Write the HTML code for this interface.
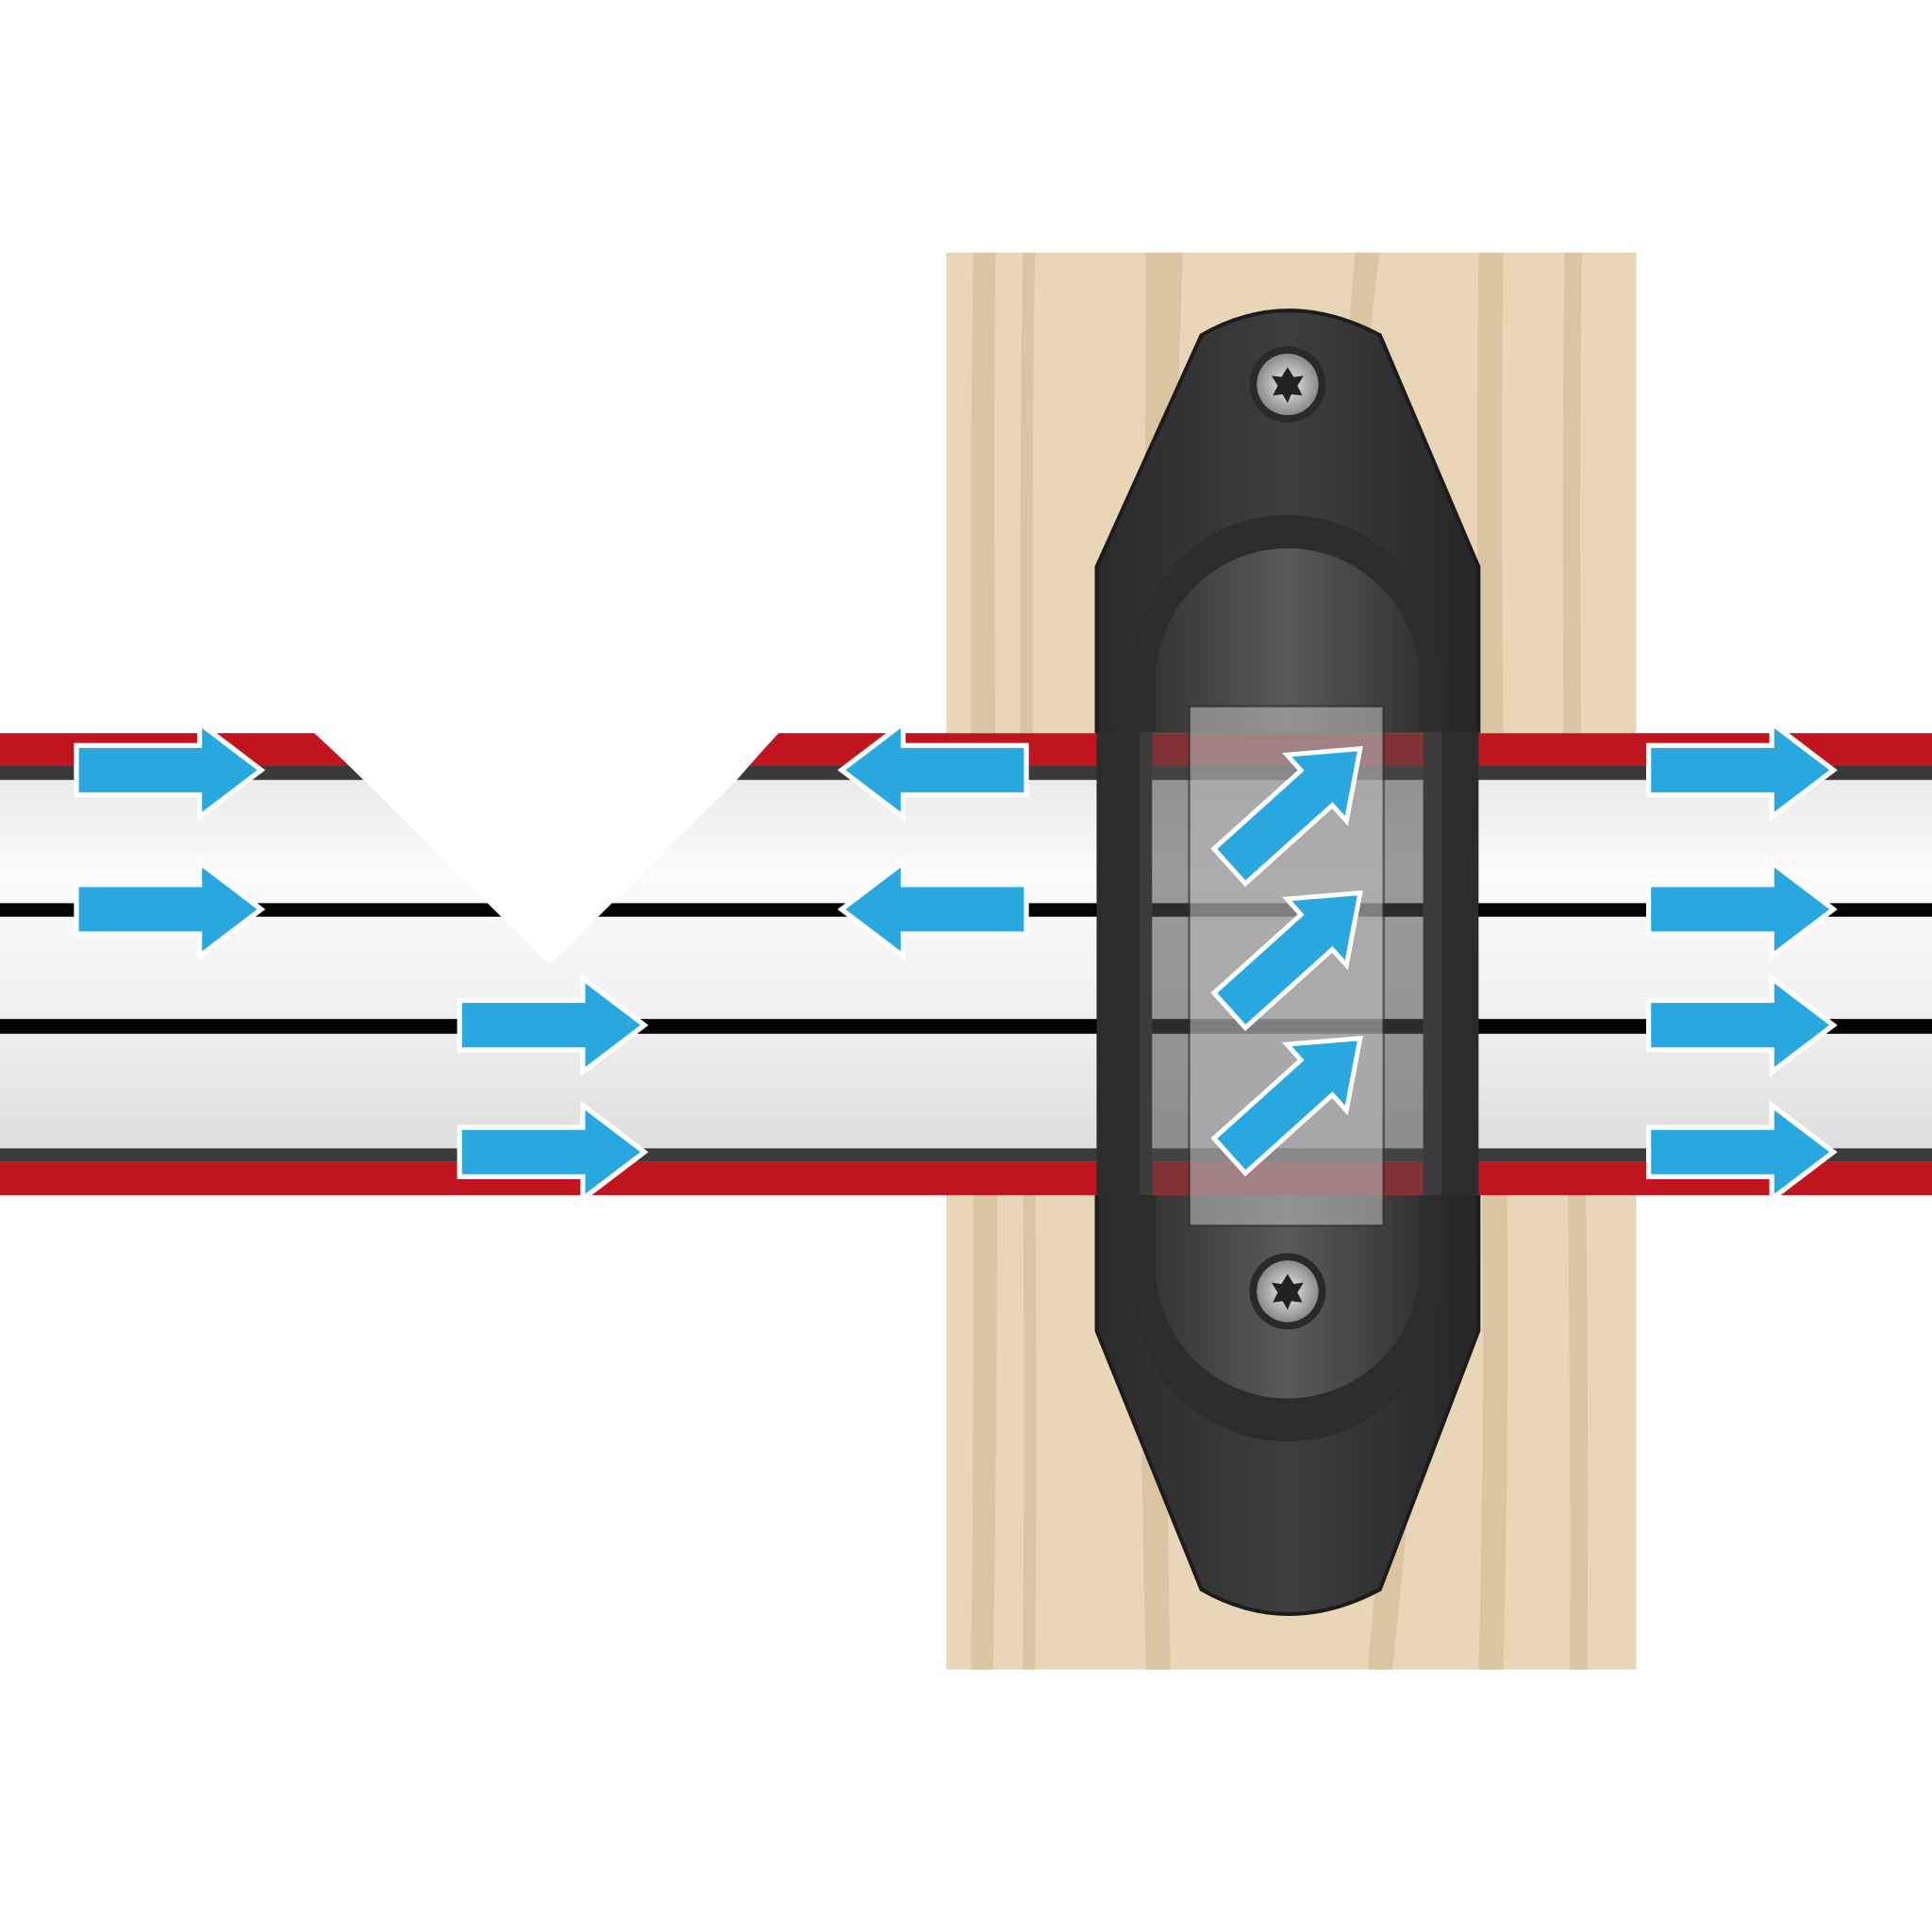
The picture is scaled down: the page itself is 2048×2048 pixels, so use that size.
<!DOCTYPE html>
<html><head><style>html,body{margin:0;padding:0;background:#fff}svg{display:block}</style></head>
<body>
<svg width="2048" height="2048" viewBox="0 0 1568 1568" xmlns="http://www.w3.org/2000/svg">
<defs>
<linearGradient id="tape" x1="0" y1="0" x2="0" y2="1">
<stop offset="0" stop-color="#e2e2e2"/><stop offset="0.3" stop-color="#fbfbfb"/><stop offset="0.6" stop-color="#f1f1f1"/><stop offset="1" stop-color="#d8d8d8"/>
</linearGradient>
<linearGradient id="body" x1="0" y1="0" x2="1" y2="0">
<stop offset="0" stop-color="#2a2a2a"/><stop offset="0.5" stop-color="#3e3e3e"/><stop offset="1" stop-color="#262626"/>
</linearGradient>
<linearGradient id="inner" x1="0" y1="0" x2="1" y2="0">
<stop offset="0" stop-color="#353535"/><stop offset="0.5" stop-color="#5a5a5a"/><stop offset="1" stop-color="#333"/>
</linearGradient>
<radialGradient id="screw"><stop offset="0" stop-color="#eee"/><stop offset="1" stop-color="#8a8a8a"/></radialGradient>
<g id="ar"><path d="M0,-20 H100 V-38 L150,0 L100,38 V20 H0 Z" fill="#29a8e0" stroke="#fff" stroke-width="4" stroke-linejoin="miter"/></g>
</defs>

<!-- wood post -->
<rect x="768" y="205" width="560" height="1150" fill="#e9d6b9"/>
<g fill="#d6c09e" opacity="0.8">
<path d="M790,205 h18 c-4,300 6,700 -2,1150 h-18 c6,-400 -4,-800 2,-1150z"/>
<path d="M830,205 h10 c-6,400 4,800 0,1150 h-10 c4,-400 -6,-700 0,-1150z"/>
<path d="M930,205 h30 c-10,300 -20,700 -10,1150 h-20 c-10,-400 0,-800 0,-1150z"/>
<path d="M1100,205 h20 c-30,200 -10,500 20,700 c20,200 0,350 -10,450 h-20 c10,-120 30,-250 10,-450 c-30,-200 -40,-500 -20,-700z"/>
<path d="M1200,205 h20 c-5,400 10,800 0,1150 h-20 c10,-350 -5,-750 0,-1150z"/>
<path d="M1270,205 h14 c-6,400 8,800 4,1150 h-14 c2,-400 -10,-800 -4,-1150z"/>
</g>

<!-- connector body -->
<path d="M975,272 Q1045,232 1120,272 L1200,460 V1080 L1120,1290 Q1045,1330 975,1290 L890,1080 V460 Z" fill="url(#body)" stroke="#1c1c1c" stroke-width="3"/>
<rect x="920" y="418" width="250" height="752" rx="125" fill="#2c2c2c"/>
<rect x="938" y="445" width="214" height="690" rx="107" fill="url(#inner)"/>

<!-- tape left piece + right piece -->
<path d="M0,595 H255 L295,632 L446,782 L598,632 L632,595 H1568 V970 H0 Z" fill="url(#tape)"/>
<clipPath id="tc"><path d="M0,595 H255 L295,632 L446,782 L598,632 L632,595 H1568 V970 H0 Z"/></clipPath>
<g clip-path="url(#tc)">
<rect x="0" y="594" width="1568" height="27" fill="#c0141f"/>
<rect x="0" y="621" width="1568" height="12" fill="#3a3a3a"/>
<rect x="0" y="733" width="1568" height="11" fill="#050505"/>
<rect x="0" y="827" width="1568" height="12" fill="#050505"/>
<rect x="0" y="932" width="1568" height="11" fill="#3a3a3a"/>
<rect x="0" y="943" width="1568" height="27" fill="#c0141f"/>
</g>
<!-- notch white fill for top slants -->
<path d="M255,594 L295,633 L446,783 L598,633 L632,594 Z" fill="#fff"/>

<!-- tape under connector -->
<rect x="890" y="594" width="45" height="376" fill="#2c2c2c"/>
<rect x="1155" y="594" width="45" height="376" fill="#2c2c2c"/>
<rect x="925" y="594" width="245" height="376" fill="#4a4a4a" opacity="0.55"/>
<!-- window -->
<rect x="965" y="573" width="158" height="422" fill="#b8b8b8" opacity="0.6" stroke="#333" stroke-width="2"/>

<!-- screws -->
<g transform="translate(1045,312)"><circle r="31" fill="#2a2a2a"/><circle r="25" fill="url(#screw)"/>
<path d="M0,-14 L5,-6 L13,-7 L8,1 L12,9 L3,8 L0,15 L-4,8 L-12,9 L-8,1 L-13,-7 L-5,-6Z" fill="#222"/></g>
<g transform="translate(1045,1048)"><circle r="31" fill="#2a2a2a"/><circle r="25" fill="url(#screw)"/>
<path d="M0,-14 L5,-6 L13,-7 L8,1 L12,9 L3,8 L0,15 L-4,8 L-12,9 L-8,1 L-13,-7 L-5,-6Z" fill="#222"/></g>

<!-- arrows -->
<use href="#ar" x="62" y="625"/>
<use href="#ar" x="62" y="738"/>
<use href="#ar" x="373" y="832"/>
<use href="#ar" x="373" y="935"/>
<use href="#ar" transform="translate(833,625) scale(-1,1)"/>
<use href="#ar" transform="translate(833,738) scale(-1,1)"/>
<use href="#ar" x="1338" y="625"/>
<use href="#ar" x="1338" y="738"/>
<use href="#ar" x="1338" y="832"/>
<use href="#ar" x="1338" y="935"/>
<use href="#ar" transform="translate(998,703) rotate(-42) scale(0.95)"/>
<use href="#ar" transform="translate(998,820) rotate(-42) scale(0.95)"/>
<use href="#ar" transform="translate(998,938) rotate(-42) scale(0.95)"/>
</svg>
</body></html>
